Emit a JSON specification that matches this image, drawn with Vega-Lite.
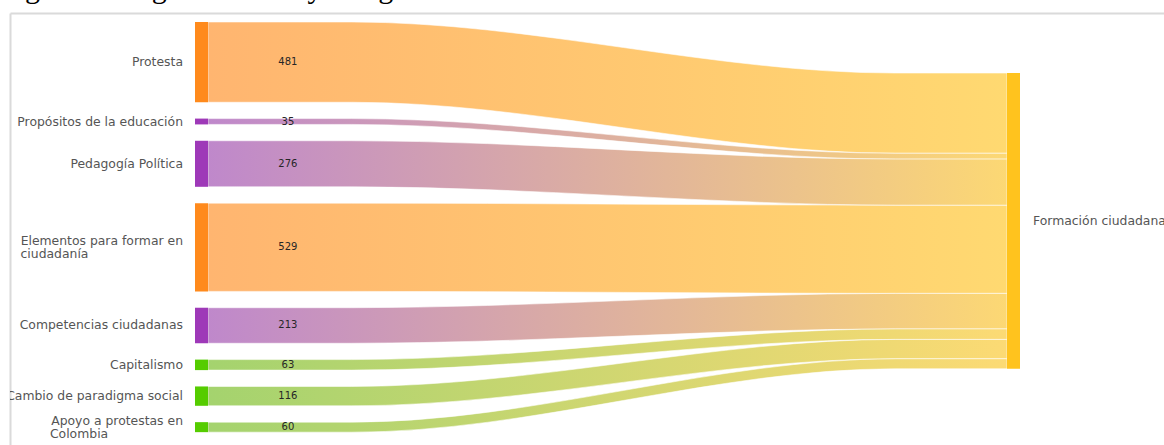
{
  "$schema": "https://vega.github.io/schema/vega-lite/v6.json",
  "width": 1154,
  "height": 432,
  "autosize": {"type": "none"},
  "padding": {"left": 10, "top": 13, "right": 0, "bottom": 0},
  "background": "white",
  "title": {
    "text": "Figura 1 Diagrama Sankey categoría formación ciudadana.",
    "anchor": "start",
    "font": "Liberation Serif",
    "fontSize": 30,
    "fontWeight": "normal",
    "color": "#000000",
    "baseline": "alphabetic",
    "offset": 0,
    "dy": 15,
    "dx": -10
  },
  "config": {
    "view": {"stroke": null},
    "axis": {"domainColor": "#dadada", "domainWidth": 2, "ticks": false, "labels": false, "grid": false}
  },
  "data": {
    "values": [
      {"source": "Protesta", "target": "Formación ciudadana", "value": 481, "grupo": "A"},
      {"source": "Propósitos de la educación", "target": "Formación ciudadana", "value": 35, "grupo": "B"},
      {"source": "Pedagogía Política", "target": "Formación ciudadana", "value": 276, "grupo": "B"},
      {"source": "Elementos para formar en\nciudadanía\u00a0\u00a0\u00a0\u00a0\u00a0\u00a0\u00a0\u00a0\u00a0\u00a0\u00a0\u00a0\u00a0\u00a0\u00a0\u00a0\u00a0\u00a0\u00a0\u00a0\u00a0\u00a0\u00a0\u00a0\u200b", "target": "Formación ciudadana", "value": 529, "grupo": "A"},
      {"source": "Competencias ciudadanas", "target": "Formación ciudadana", "value": 213, "grupo": "B"},
      {"source": "Capitalismo", "target": "Formación ciudadana", "value": 63, "grupo": "C"},
      {"source": "Cambio de paradigma social", "target": "Formación ciudadana", "value": 116, "grupo": "C"},
      {"source": "Apoyo a protestas en\nColombia\u00a0\u00a0\u00a0\u00a0\u00a0\u00a0\u00a0\u00a0\u00a0\u00a0\u00a0\u00a0\u00a0\u00a0\u00a0\u00a0\u00a0\u00a0\u00a0\u200b", "target": "Formación ciudadana", "value": 60, "grupo": "C"}
    ]
  },
  "transform": [
    {"window": [{"op": "sum", "field": "value", "as": "cum"}, {"op": "row_number", "as": "idx"}], "frame": [null, 0]},
    {"calculate": "datum.cum - datum.value + (datum.idx - 1) * 98", "as": "sy0"},
    {"calculate": "datum.sy0 + datum.value", "as": "sy1"},
    {"calculate": "(datum.sy0 + datum.sy1) / 2", "as": "smid"},
    {"calculate": "datum.cum - datum.value + 306", "as": "ty0"},
    {"calculate": "datum.ty0 + datum.value", "as": "ty1"}
  ],
  "layer": [
    {
      "transform": [
        {"filter": "datum.grupo === 'A'"},
        {"calculate": "[0, 0.18, 0.86, 1]", "as": "t"},
        {"flatten": ["t"]},
        {"calculate": "datum.t < 0.5 ? datum.sy0 : datum.ty0", "as": "ly0"},
        {"calculate": "datum.t < 0.5 ? datum.sy1 : datum.ty1", "as": "ly1"}
      ],
      "mark": {
        "type": "area",
        "interpolate": "monotone",
        "fill": {"gradient": "linear", "x1": 0, "y1": 0, "x2": 1, "y2": 0, "stops": [{"offset": 0, "color": "#FFB570"}, {"offset": 1, "color": "#FFD971"}]},
        "stroke": "white",
        "strokeWidth": 0.8,
        "strokeOpacity": 0.7
      },
      "encoding": {
        "x": {"field": "t", "type": "quantitative", "title": null, "scale": {"domain": [-0.24781, 1.1965], "nice": false, "zero": false}, "axis": {"orient": "top"}},
        "y": {"field": "ly0", "type": "quantitative", "title": null, "scale": {"domain": [-54, 2536], "reverse": true, "nice": false, "zero": false}, "axis": {"orient": "left"}},
        "y2": {"field": "ly1"},
        "detail": {"field": "source"}
      }
    },
    {
      "transform": [
        {"filter": "datum.grupo === 'B'"},
        {"calculate": "[0, 0.18, 0.86, 1]", "as": "t"},
        {"flatten": ["t"]},
        {"calculate": "datum.t < 0.5 ? datum.sy0 : datum.ty0", "as": "ly0"},
        {"calculate": "datum.t < 0.5 ? datum.sy1 : datum.ty1", "as": "ly1"}
      ],
      "mark": {
        "type": "area",
        "interpolate": "monotone",
        "fill": {"gradient": "linear", "x1": 0, "y1": 0, "x2": 1, "y2": 0, "stops": [{"offset": 0, "color": "#BF88CB"}, {"offset": 1, "color": "#FCD874"}]},
        "stroke": "white",
        "strokeWidth": 0.8,
        "strokeOpacity": 0.7
      },
      "encoding": {
        "x": {"field": "t", "type": "quantitative", "title": null},
        "y": {"field": "ly0", "type": "quantitative", "title": null},
        "y2": {"field": "ly1"},
        "detail": {"field": "source"}
      }
    },
    {
      "transform": [
        {"filter": "datum.grupo === 'C'"},
        {"calculate": "[0, 0.18, 0.86, 1]", "as": "t"},
        {"flatten": ["t"]},
        {"calculate": "datum.t < 0.5 ? datum.sy0 : datum.ty0", "as": "ly0"},
        {"calculate": "datum.t < 0.5 ? datum.sy1 : datum.ty1", "as": "ly1"}
      ],
      "mark": {
        "type": "area",
        "interpolate": "monotone",
        "fill": {"gradient": "linear", "x1": 0, "y1": 0, "x2": 1, "y2": 0, "stops": [{"offset": 0, "color": "#A4D36E"}, {"offset": 1, "color": "#FCDA74"}]},
        "stroke": "white",
        "strokeWidth": 0.8,
        "strokeOpacity": 0.7
      },
      "encoding": {
        "x": {"field": "t", "type": "quantitative", "title": null},
        "y": {"field": "ly0", "type": "quantitative", "title": null},
        "y2": {"field": "ly1"},
        "detail": {"field": "source"}
      }
    },
    {
      "mark": {"type": "rect"},
      "encoding": {
        "x": {"datum": -0.01627, "type": "quantitative"},
        "x2": {"datum": 0},
        "y": {"field": "sy0", "type": "quantitative", "title": null},
        "y2": {"field": "sy1"},
        "color": {"field": "grupo", "type": "nominal", "scale": {"domain": ["A", "B", "C"], "range": ["#FF8A1C", "#9E39B8", "#55CC00"]}, "legend": null}
      }
    },
    {
      "transform": [{"filter": "indexof(datum.source, '\\n') < 0"}],
      "mark": {"type": "text", "align": "right", "baseline": "middle", "dx": -12, "font": "DejaVu Sans", "fontSize": 12.4, "color": "#555555", "clip": true},
      "encoding": {
        "x": {"datum": -0.01627, "type": "quantitative"},
        "y": {"field": "smid", "type": "quantitative", "title": null},
        "text": {"field": "source"}
      }
    },
    {
      "transform": [{"filter": "indexof(datum.source, '\\n') >= 0"}],
      "mark": {"type": "text", "align": "right", "baseline": "middle", "dx": -12, "dy": -6.5, "font": "DejaVu Sans", "fontSize": 12.4, "color": "#555555", "lineBreak": "\n", "lineHeight": 13, "clip": true},
      "encoding": {
        "x": {"datum": -0.01627, "type": "quantitative"},
        "y": {"field": "smid", "type": "quantitative", "title": null},
        "text": {"field": "source"}
      }
    },
    {
      "mark": {"type": "text", "align": "center", "baseline": "middle", "font": "DejaVu Sans", "fontSize": 10, "color": "#262626"},
      "encoding": {
        "x": {"datum": 0.1, "type": "quantitative"},
        "y": {"field": "smid", "type": "quantitative", "title": null},
        "text": {"field": "value", "type": "quantitative"}
      }
    },
    {
      "transform": [
        {"aggregate": [{"op": "min", "field": "ty0", "as": "y0"}, {"op": "max", "field": "ty1", "as": "y1"}], "groupby": ["target"]},
        {"calculate": "(datum.y0 + datum.y1) / 2", "as": "ymid"}
      ],
      "layer": [
        {
          "mark": {"type": "rect", "color": "#FFC31E"},
          "encoding": {
            "x": {"datum": 1, "type": "quantitative"},
            "x2": {"datum": 1.01627},
            "y": {"field": "y0", "type": "quantitative", "title": null},
            "y2": {"field": "y1"}
          }
        },
        {
          "mark": {"type": "text", "align": "left", "baseline": "middle", "dx": 13, "font": "DejaVu Sans", "fontSize": 12.4, "color": "#555555", "clip": true},
          "encoding": {
            "x": {"datum": 1.01627, "type": "quantitative"},
            "y": {"field": "ymid", "type": "quantitative", "title": null},
            "text": {"field": "target"}
          }
        }
      ]
    }
  ]
}
